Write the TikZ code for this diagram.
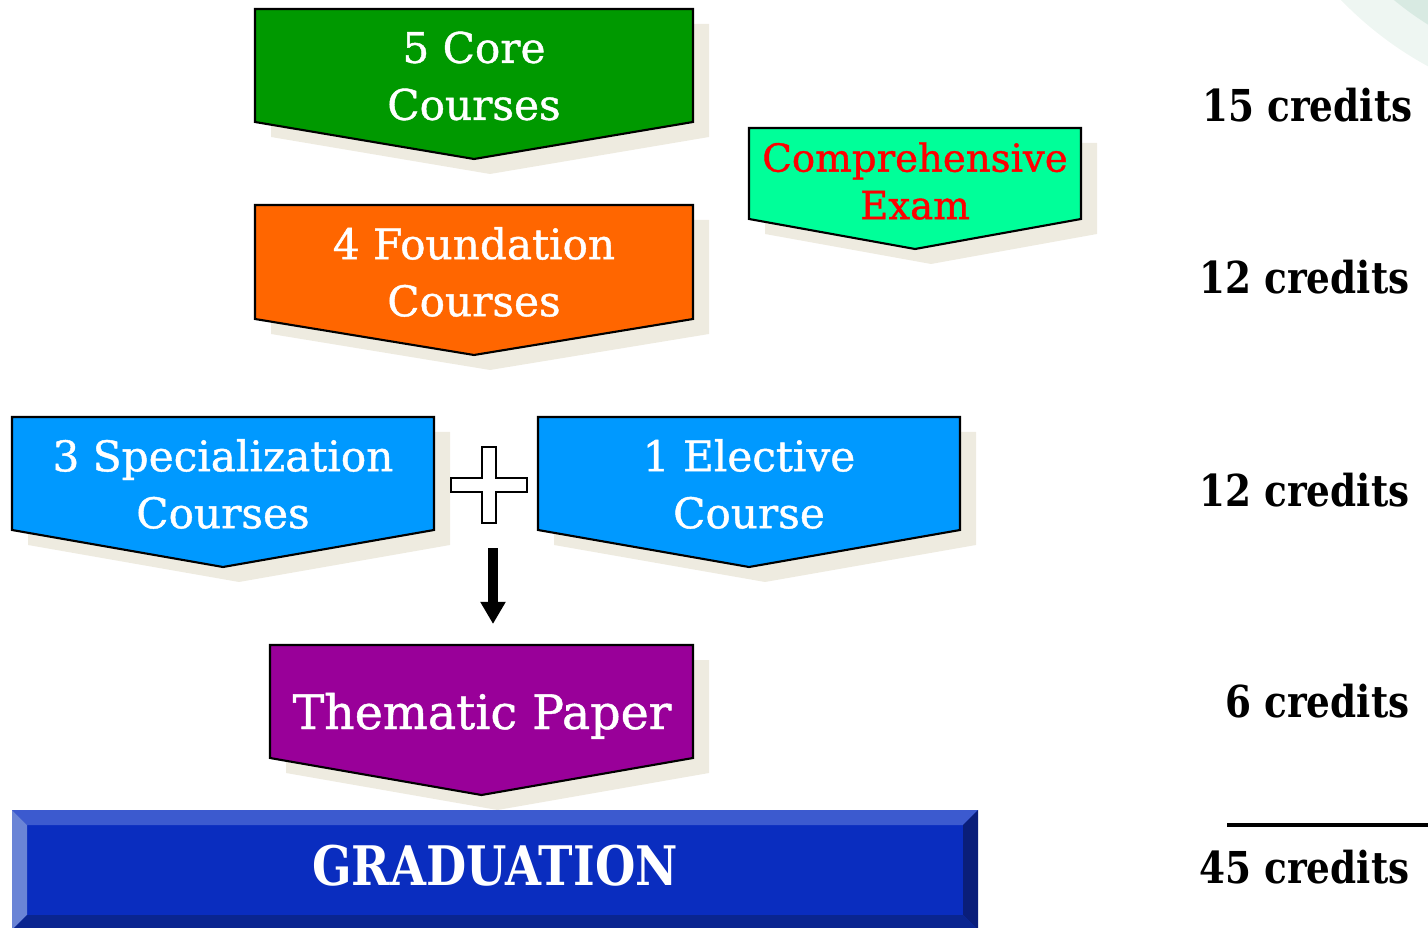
\documentclass[tikz,border=0pt]{standalone}
\usepackage{fontspec}
\setmainfont{DejaVu Serif}
\newfontfamily\credfont[FakeStretch=0.85]{DejaVu Serif}
\newfontfamily\boxfont[FakeBold=1]{DejaVu Serif}
\usepackage{tikz}
\usetikzlibrary{arrows.meta}
\definecolor{coregreen}{HTML}{009900}
\definecolor{foundorange}{HTML}{FF6600}
\definecolor{exammint}{HTML}{00FF99}
\definecolor{specblue}{HTML}{0099FF}
\definecolor{thempurple}{HTML}{990099}
\definecolor{shadowbeige}{HTML}{EEEBE0}
\definecolor{gradmain}{HTML}{0A2DBF}
\definecolor{gradtop}{HTML}{3C5ACF}
\definecolor{gradleft}{HTML}{6A84D6}
\definecolor{graddark}{HTML}{0A1E7A}
\definecolor{gradbottom}{HTML}{0A2590}
\definecolor{arcpale}{HTML}{EEF6F2}
\definecolor{arcmint}{HTML}{D8EAE2}
% banner: left, top, right, side bottom, tip, colour
\newcommand{\banner}[6]{
  \fill[shadowbeige, shift={(16,15)}] (#1,#2) -- (#3,#2) -- (#3,#4) -- ({(#1+#3)/2},#5) -- (#1,#4) -- cycle;
  \draw[fill=#6, line width=0.6pt] (#1,#2) -- (#3,#2) -- (#3,#4) -- ({(#1+#3)/2},#5) -- (#1,#4) -- cycle;}
\tikzset{
  boxtext/.style={text=white, align=center, font=\boxfont\fontsize{12}{16.2}\selectfont},
  examtext/.style={text=red, align=center, font=\boxfont\fontsize{11}{13.5}\selectfont},
  credit/.style={anchor=base east, inner sep=0pt, font=\credfont\bfseries\fontsize{12.5}{15}\selectfont},
  bigarrow/.style={line width=2.6pt, -{Triangle[width=6.8pt,length=6.3pt]}}
}
\begin{document}
\begin{tikzpicture}[x=0.01cm, y=-0.01cm]
        \useasboundingbox (0,0) rectangle (1428,928);
        % corner decoration
        \begin{scope}
          \clip (0,0) rectangle (1428,928);
          \fill[arcpale] (1600,-250) circle (360);
          \fill[arcmint] (1600,-250) circle (324);
        \end{scope}

        % row1
        \banner{255}{9}{693}{122}{159}{coregreen}
        \banner{749}{128}{1081}{219}{249}{exammint}
        \node[boxtext] (core) at (474,76) {5 Core\\Courses};
        \node[examtext] (exam) at (915,181) {Comprehensive\\Exam};

        % row2
        \banner{255}{205}{693}{319}{355}{foundorange}
        \node[boxtext] (found) at (474,272) {4 Foundation\\Courses};

        % row3
        \banner{12}{417}{434}{530}{567}{specblue}
        \banner{538}{417}{960}{530}{567}{specblue}
        \node[boxtext] (spec) at (223,484) {3 Specialization\\Courses};
        \node[boxtext] (elect) at (749,484) {1 Elective\\Course};
        \draw[fill=white, line width=0.7pt] (482,447) -- (496,447) -- (496,478) -- (527,478) -- (527,492) -- (496,492)
          -- (496,523) -- (482,523) -- (482,492) -- (451,492) -- (451,478) -- (482,478) -- cycle;
        \coordinate (arrtop) at (493,548);
        \coordinate (arrtip) at (493,624);
        \draw[bigarrow] (arrtop) -- (arrtip);

        % row4
        \banner{270}{645}{693}{758}{795}{thempurple}
        \node[boxtext, anchor=base, font=\boxfont\fontsize{13.5}{16}\selectfont] (them) at (482,729) {Thematic Paper};

        % graduation bar
        \fill[gradmain] (12,810) rectangle (978,930);
        \fill[gradtop] (12,810) -- (978,810) -- (963,825) -- (27,825) -- cycle;
        \fill[gradleft] (12,810) -- (27,825) -- (27,915) -- (12,930) -- cycle;
        \fill[graddark] (978,810) -- (978,930) -- (963,915) -- (963,825) -- cycle;
        \fill[gradbottom] (12,930) -- (27,915) -- (963,915) -- (978,930) -- cycle;
        \node[text=white, font=\credfont\bfseries\fontsize{15.5}{18}\selectfont] (grad) at (495,866) {GRADUATION};

        % credits
        \node[credit] (c1) at (1413,122) {15 credits};
        \node[credit] (c2) at (1410,294) {12 credits};
        \node[credit] (c3) at (1410,506) {12 credits};
        \node[credit] (c4) at (1410,717) {6 credits};
        \draw[line width=1.4pt] (1227,825) -- (1428,825);
        \node[credit] (c5) at (1410,883) {45 credits};
    \end{tikzpicture}
\end{document}
